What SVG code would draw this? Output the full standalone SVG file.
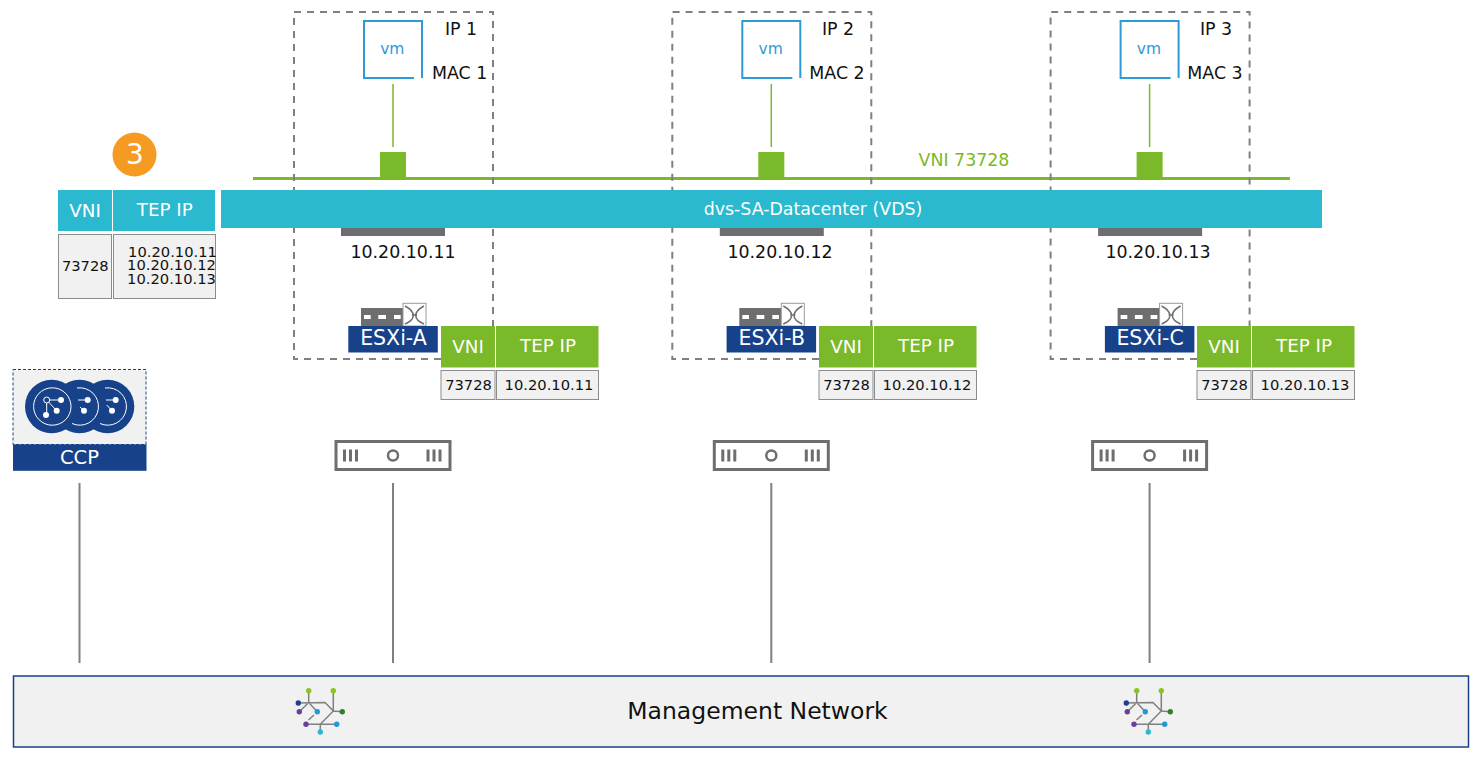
<svg xmlns="http://www.w3.org/2000/svg" xmlns:xlink="http://www.w3.org/1999/xlink" width="1476" height="758" viewBox="0 0 1476 758">
<style>
text{font-family:"DejaVu Sans",Verdana,sans-serif;text-anchor:middle}
.dash{fill:none;stroke:#808080;stroke-width:2;stroke-dasharray:7 6}
.gl{stroke:#7ab929;stroke-width:1.5;fill:none}
.gr{stroke:#808080;stroke-width:2;fill:none}
.cell{fill:#f1f1f1;stroke:#8c8c8c;stroke-width:1}
.g{fill:#7ab929}.c{fill:#2bb9d0}.n{fill:#17428a}
.w{fill:#fff}.k{fill:#111}
.t17{font-size:17.4px}.th{font-size:18.300px}.t14{font-size:14.700px}.e{font-size:20.500px}
.m{stroke:#808080;stroke-width:1.5;fill:none}
</style>
<defs>
<g id="vm">
<path d="M29 28V-29H-29V28H21" fill="none" stroke="#2e9bd6" stroke-width="2"/>
<text x="-0.700" y="4.300" font-size="15.500" style="fill:#2e9bd6">vm</text>
</g>
<g id="switch">
<rect x="-32" y="0" width="42" height="18" fill="#6d6e70"/>
<rect x="-29" y="7" width="6.700" height="4" class="w"/><rect x="-14.700" y="7" width="7.700" height="4" class="w"/><rect x="1" y="7" width="6.700" height="4" class="w"/>
<rect x="10" y="-4.700" width="23" height="22.700" fill="#fff" stroke="#9a9a9a"/>
<path d="M12 -2C23 4 23 11 12 16M31 -2C20 4 20 11 31 16M19 7H24" fill="none" stroke="#6d6e70" stroke-width="1.500"/>
</g>
<g id="phys">
<rect x="-57" y="-14" width="114" height="28" fill="#fff" stroke="#6d6e70" stroke-width="3"/>
<path d="M-48.500 -6V6M-42.500 -6V6M-36.500 -6V6M35 -6V6M41 -6V6M47 -6V6" stroke="#6d6e70" stroke-width="3"/>
<circle cx="0" cy="0" r="5" fill="none" stroke="#6d6e70" stroke-width="2.500"/>
</g>
<g id="mesh">
<path class="m" d="M308.700 690.700V702.500M298.300 703L325 702.500L333.300 711M333.300 690.700V711L320.300 724.300V732M299.300 711.700L308.700 702.500L317.300 711.700M308.500 720L314 715M306 724.300H336.700M333.300 711L342.300 711.700"/>
<circle cx="308.700" cy="690.700" r="2.700" fill="#8dc21f"/><circle cx="333.300" cy="690.700" r="2.700" fill="#8dc21f"/>
<circle cx="298.300" cy="703" r="2.700" fill="#1c3f8f"/><circle cx="299.300" cy="711.700" r="2.700" fill="#6b3f98"/>
<circle cx="317.300" cy="711.700" r="2.700" fill="#1e9ad6"/><circle cx="306" cy="724.300" r="2.700" fill="#6b3f98"/>
<circle cx="342.300" cy="711.700" r="2.700" fill="#2e7d32"/><circle cx="336.700" cy="724.300" r="2.700" fill="#1e9ad6"/>
<circle cx="320.300" cy="732" r="2.700" fill="#2bb9d0"/>
</g>
</defs>

<g id="connectors">
<path class="gl" d="M393 84V147M771.300 84V147M1149.600 84V147"/>
<path class="gl" d="M253 178.500H1290" style="stroke-width:3"/>
<path class="gr" d="M79.500 483V663M393 483V663M771.300 483V663M1149.600 483V663"/>
</g>

<g id="host-a-frame"><path class="dash" d="M441 359H294V12H493V326"/></g>
<g id="host-b-frame"><path class="dash" d="M819 359H672.300V12H871.300V326"/></g>
<g id="host-c-frame"><path class="dash" d="M1197 359H1050.600V12H1249.600V326"/></g>

<g id="vm-1"><use xlink:href="#vm" href="#vm" x="393" y="50"/><text x="461" y="35" class="t17 k">IP 1</text><text x="459.700" y="79" class="t17 k">MAC 1</text></g>
<g id="vm-2"><use xlink:href="#vm" href="#vm" x="771.300" y="50"/><text x="838" y="35" class="t17 k">IP 2</text><text x="837" y="79" class="t17 k">MAC 2</text></g>
<g id="vm-3"><use xlink:href="#vm" href="#vm" x="1149.600" y="50"/><text x="1216" y="35" class="t17 k">IP 3</text><text x="1215" y="79" class="t17 k">MAC 3</text></g>

<g id="ports" class="g">
<rect x="380" y="152" width="26" height="27"/><rect x="758.300" y="152" width="26" height="27"/><rect x="1136.600" y="152" width="26" height="27"/>
</g>
<g id="vni-label"><text x="964" y="166" class="t17" style="fill:#7ab929">VNI 73728</text></g>

<g id="step-3"><circle cx="134.500" cy="154.500" r="22" fill="#f59a23"/><text x="135" y="163.500" font-size="28" class="w">3</text></g>

<g id="vds"><rect x="221" y="190" width="1101" height="38" class="c"/><text x="813" y="215" class="t17 w">dvs-SA-Datacenter (VDS)</text></g>

<g id="ccp-table">
<rect x="58" y="190" width="54" height="41" class="c"/><text x="85" y="217" class="th w">VNI</text>
<rect x="113" y="190" width="102" height="41" class="c"/><text x="164.800" y="216" class="th w">TEP IP</text>
<rect x="58.500" y="234.500" width="53" height="64" class="cell"/><text x="85.300" y="271" class="t14 k">73728</text>
<rect x="113.500" y="234.500" width="102" height="64" class="cell"/>
<text x="172.500" y="257" class="t14 k">10.20.10.11</text><text x="171.500" y="270" class="t14 k">10.20.10.12</text><text x="171.500" y="284" class="t14 k">10.20.10.13</text>
</g>

<g id="tep-a"><rect x="341" y="228" width="104" height="8" fill="#6d6e70"/><text x="403" y="258" class="t17 k">10.20.10.11</text></g>
<g id="tep-b"><rect x="719.800" y="228" width="104" height="8" fill="#6d6e70"/><text x="780" y="258" class="t17 k">10.20.10.12</text></g>
<g id="tep-c"><rect x="1098.100" y="228" width="104" height="8" fill="#6d6e70"/><text x="1158" y="258" class="t17 k">10.20.10.13</text></g>

<g id="esxi-a"><use xlink:href="#switch" href="#switch" x="393" y="308"/><rect x="348.300" y="326" width="89.500" height="26.500" class="n"/><text x="393.500" y="345" class="e w">ESXi-A</text></g>
<g id="esxi-b"><use xlink:href="#switch" href="#switch" x="771.300" y="308"/><rect x="726.600" y="326" width="89.500" height="26.500" class="n"/><text x="771.800" y="345" class="e w">ESXi-B</text></g>
<g id="esxi-c"><use xlink:href="#switch" href="#switch" x="1149.600" y="308"/><rect x="1104.900" y="326" width="89.500" height="26.500" class="n"/><text x="1150.100" y="345" class="e w">ESXi-C</text></g>

<g id="table-a">
<rect x="441" y="326" width="54" height="41.500" class="g"/><text x="468" y="353" class="th w">VNI</text>
<rect x="496" y="326" width="102.500" height="41.500" class="g"/><text x="548" y="352" class="th w">TEP IP</text>
<rect x="441" y="370.500" width="54" height="29" class="cell"/><text x="468.500" y="390" class="t14 k">73728</text>
<rect x="496.500" y="370.500" width="102" height="29" class="cell"/><text x="549" y="390" class="t14 k">10.20.10.11</text>
</g>
<g id="table-b">
<rect x="819" y="326" width="54" height="41.500" class="g"/><text x="846" y="353" class="th w">VNI</text>
<rect x="874" y="326" width="102.500" height="41.500" class="g"/><text x="926" y="352" class="th w">TEP IP</text>
<rect x="819" y="370.500" width="54" height="29" class="cell"/><text x="846.500" y="390" class="t14 k">73728</text>
<rect x="874.500" y="370.500" width="102" height="29" class="cell"/><text x="927" y="390" class="t14 k">10.20.10.12</text>
</g>
<g id="table-c">
<rect x="1197" y="326" width="54" height="41.500" class="g"/><text x="1224" y="353" class="th w">VNI</text>
<rect x="1252" y="326" width="102.500" height="41.500" class="g"/><text x="1304" y="352" class="th w">TEP IP</text>
<rect x="1197" y="370.500" width="54" height="29" class="cell"/><text x="1224.500" y="390" class="t14 k">73728</text>
<rect x="1252.500" y="370.500" width="102" height="29" class="cell"/><text x="1305" y="390" class="t14 k">10.20.10.13</text>
</g>

<g id="phys-a"><use xlink:href="#phys" href="#phys" x="393" y="455.500"/></g>
<g id="phys-b"><use xlink:href="#phys" href="#phys" x="771.300" y="455.500"/></g>
<g id="phys-c"><use xlink:href="#phys" href="#phys" x="1149.600" y="455.500"/></g>

<g id="ccp">
<rect x="13" y="369.500" width="133" height="75" fill="#f1f1f1" stroke="#17428a" stroke-dasharray="3 2"/>
<rect x="13" y="444.300" width="133.500" height="26.500" class="n"/>
<text x="79.500" y="463.500" font-size="19.500" class="w">CCP</text>
<circle cx="107.600" cy="406.500" r="26.700" class="n"/><circle cx="79.600" cy="406.500" r="26.700" class="n"/><circle cx="51.700" cy="406.500" r="26.700" class="n"/>
<circle cx="52.300" cy="406.500" r="18.700" fill="none" stroke="#fff" stroke-width="1"/>
<path d="M77 388A18.700 18.700 0 1 1 72 423.500M105 388A18.700 18.700 0 1 1 100 423.500" fill="none" stroke="#fff" stroke-width="1"/>
<path d="M46.700 400H61M46.700 400V415M46.700 400L56.700 410.700" stroke="#fff" stroke-width="1"/>
<circle cx="46.700" cy="400" r="3" fill="#17428a" stroke="#fff"/><circle cx="61" cy="400" r="3" class="w"/><circle cx="56.700" cy="410.700" r="3" class="w"/><circle cx="46" cy="415" r="3" class="w"/>
<path d="M78 400H87.700M80 407L84 410.700M106 400H115.700M106.700 405L112 410.700" stroke="#fff" stroke-width="1"/>
<circle cx="87.700" cy="400" r="3" class="w"/><circle cx="84" cy="410.700" r="3" class="w"/><circle cx="115.700" cy="400" r="3" class="w"/><circle cx="112" cy="410.700" r="3" class="w"/>
</g>

<g id="management-network">
<rect x="13.500" y="676" width="1455" height="71" fill="#f1f1f1" stroke="#17428a" stroke-width="1.500"/>
<text x="757.500" y="718.500" font-size="23.500" class="k">Management Network</text>
<use xlink:href="#mesh" href="#mesh"/>
<use xlink:href="#mesh" href="#mesh" x="828"/>
</g>
</svg>
